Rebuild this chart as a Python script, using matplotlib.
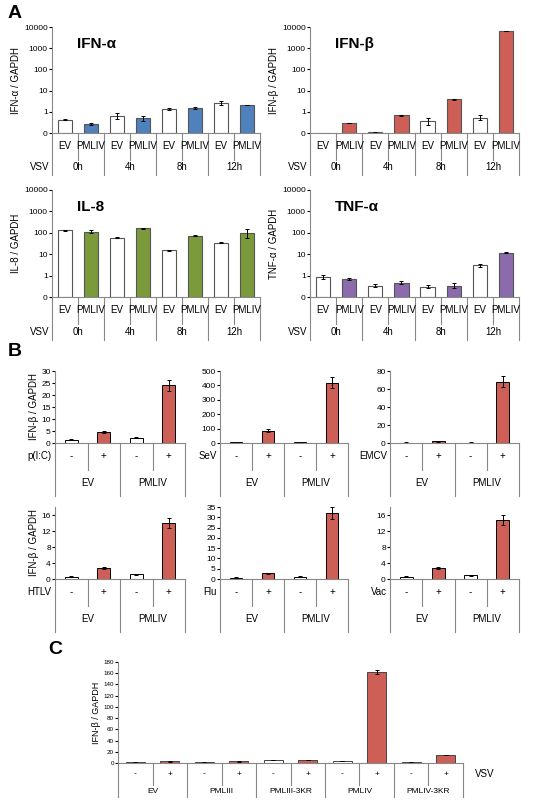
import numpy as np
import matplotlib
matplotlib.use("Agg")
import matplotlib.pyplot as plt

W, H = 553, 800
plt.rcParams['font.family'] = ['Liberation Sans', 'DejaVu Sans']
plt.rcParams['font.size'] = 6.5

RED = "#cd5f57"
BLUE = "#4f81bd"
GREEN = "#7a9a3c"
PURPLE = "#8b6bab"

# ---- Panel A data (EV, PMLIV alternating, 0h 4h 8h 12h)
times = ["0h", "4h", "8h", "12h"]
a_ifna = [0.62, 0.42, 0.8, 0.7, 1.33, 1.55, 2.7, 2.0]
a_ifna_err = [0.03, 0.03, 0.12, 0.12, 0.15, 0.15, 0.7, 0.0]
a_ifnb = [0.0, 0.47, 0.03, 0.83, 0.55, 3.9, 0.73, 6300]
a_ifnb_err = [0.0, 0.0, 0.02, 0.03, 0.15, 0.3, 0.12, 0.0]
a_il8 = [130, 115, 60, 160, 15, 74, 35, 100]
a_il8_err = [5, 15, 3, 8, 1.5, 4, 1, 45]
a_tnf = [0.94, 0.84, 0.53, 0.67, 0.48, 0.53, 3.0, 12]
a_tnf_err = [0.12, 0.05, 0.06, 0.06, 0.07, 0.12, 0.4, 0.5]

# ---- Panel B data (EV-, EV+, PMLIV-, PMLIV+)
b_names = ["p(I:C)", "SeV", "EMCV", "HTLV", "Flu", "Vac"]
b_vals = [[1.3, 4.5, 2.2, 24], [5, 85, 5, 420], [0.5, 2, 0.5, 68],
          [0.6, 2.7, 1.2, 14], [0.7, 2.7, 1.2, 32], [0.6, 2.7, 0.9, 14.7]]
b_err = [[0.2, 0.5, 0.3, 2.2], [1, 10, 1, 40], [0.2, 0.4, 0.2, 6],
         [0.1, 0.2, 0.1, 1.3], [0.1, 0.3, 0.1, 3], [0.1, 0.2, 0.1, 1.3]]
b_ylims = [30, 500, 80, 18, 35, 18]
b_ticks = [range(0, 31, 5), range(0, 501, 100), range(0, 81, 20),
           range(0, 17, 4), range(0, 36, 5), range(0, 17, 4)]

# ---- Panel C data
c_groups = ["EV", "PMLIII", "PMLIII-3KR", "PMLIV", "PMLIV-3KR"]
c_vals = [1, 3, 1, 3, 5, 5, 3, 162, 1, 14]
c_err = [0.2, 0.5, 0.2, 1, 0.3, 0.5, 0.3, 3, 0.2, 0.6]


def add_ax(l, t, r, b):
    return fig.add_axes([l / W, 1 - b / H, (r - l) / W, (b - t) / H])


def table_axis(ax, row1, row2, h1, h2, lab1=None, lab2=None, fs=7,
               right_label=None):
    # draws the category "table" below the axes, heights in axes fraction
    tr = ax.get_xaxis_transform()
    n = len(row1)
    kw = dict(transform=tr, clip_on=False, color="#888888", lw=0.8)
    for i, t in enumerate(row1):
        ax.text(i, -h1 / 2, t, transform=tr, ha="center", va="center",
                fontsize=fs)
    per = n // len(row2)
    for j, t in enumerate(row2):
        ax.text(j * per + (per - 1) / 2, -h1 - h2 / 2, t, transform=tr,
                ha="center", va="center", fontsize=fs)
    for k in range(n + 1):
        x = k - 0.5
        if k % per == 0:
            ax.plot([x, x], [0, -h1 - h2], **kw)
        else:
            ax.plot([x, x], [0, -h1], **kw)
    if lab1:
        ax.text(-0.6, -h1 / 2, lab1, transform=tr, ha="right", va="center",
                fontsize=7)
    if lab2:
        ax.text(-0.6, -h1 - h2 / 2, lab2, transform=tr, ha="right",
                va="center", fontsize=7)
    if right_label:
        ax.text(n - 0.5 + 0.35, -h1 / 2, right_label, transform=tr,
                ha="left", va="center", fontsize=7)


def style(ax):
    for s in ["top", "right"]:
        ax.spines[s].set_visible(False)
    for s in ["left", "bottom"]:
        ax.spines[s].set_color("#888888")
    ax.set_xticks([])
    ax.tick_params(axis="y", length=2, pad=1, labelsize=6)


fig = plt.figure(figsize=(W / 100, H / 100), dpi=100)

# Panel A
a_sets = [(a_ifna, a_ifna_err, BLUE, "IFN-α", "IFN-α / GAPDH", (52, 27, 260, 133)),
          (a_ifnb, a_ifnb_err, RED, "IFN-β", "IFN-β / GAPDH", (310, 27, 519, 133)),
          (a_il8, a_il8_err, GREEN, "IL-8", "IL-8 / GAPDH", (52, 190, 260, 297)),
          (a_tnf, a_tnf_err, PURPLE, "TNF-α", "TNF-α / GAPDH", (310, 190, 519, 297))]
for vals, err, col, title, ylab, rect in a_sets:
    ax = add_ax(*rect)
    x = np.arange(8)
    colors = ["white" if i % 2 == 0 else col for i in range(8)]
    ax.bar(x, vals, width=0.55, color=colors, edgecolor="#555555", lw=0.8)
    ax.errorbar(x, vals, yerr=err, fmt="none", ecolor="black", elinewidth=0.7,
                capsize=1.5, capthick=0.7)
    ax.set_yscale("symlog", linthresh=1, linscale=0.9)
    ax.set_ylim(0, 10000)
    ax.set_xlim(-0.5, 7.5)
    ax.set_yticks([0, 1, 10, 100, 1000, 10000])
    ax.set_yticklabels(["0", "1", "10", "100", "1000", "10000"])
    ax.yaxis.set_minor_locator(matplotlib.ticker.NullLocator())
    style(ax)
    ax.set_ylabel(ylab, fontsize=7, labelpad=2)
    ax.text(0.12, 0.84, title, transform=ax.transAxes, fontsize=11,
            fontweight="bold", va="center")
    table_axis(ax, ["EV", "PMLIV"] * 4, times, 0.25, 0.15, lab2="VSV")

fig.text(8 / W, 1 - 14 / H, "A", fontsize=14, fontweight="bold", va="center")
fig.text(8 / W, 1 - 352 / H, "B", fontsize=14, fontweight="bold", va="center")
fig.text(48 / W, 1 - 650 / H, "C", fontsize=14, fontweight="bold", va="center")

# Panel B
b_rects = [(55, 371, 185, 443), (220, 371, 348, 443), (390, 371, 519, 443),
           (55, 507, 185, 579), (220, 507, 348, 579), (390, 507, 519, 579)]
for k in range(6):
    ax = add_ax(*b_rects[k])
    x = np.arange(4)
    colors = ["white", RED, "white", RED]
    ax.bar(x, b_vals[k], width=0.4, color=colors, edgecolor="black", lw=0.7)
    ax.errorbar(x, b_vals[k], yerr=b_err[k], fmt="none", ecolor="black",
                elinewidth=0.7, capsize=1.5, capthick=0.7)
    ax.set_ylim(0, b_ylims[k])
    ax.set_xlim(-0.5, 3.5)
    ax.set_yticks(list(b_ticks[k]))
    style(ax)
    if k % 3 == 0:
        ax.set_ylabel("IFN-β / GAPDH", fontsize=7, labelpad=2)
    table_axis(ax, ["-", "+", "-", "+"], ["EV", "PMLIV"], 0.37, 0.36,
               lab1=b_names[k])

# Panel C
ax = add_ax(118, 662, 463, 763)
x = np.arange(10)
colors = ["white" if i % 2 == 0 else RED for i in range(10)]
ax.bar(x, c_vals, width=0.55, color=colors, edgecolor="#444444", lw=0.7)
ax.errorbar(x, c_vals, yerr=c_err, fmt="none", ecolor="black",
            elinewidth=0.7, capsize=1.5, capthick=0.7)
ax.set_ylim(0, 180)
ax.set_xlim(-0.5, 9.5)
ax.set_yticks(range(0, 181, 20))
style(ax)
ax.tick_params(axis="y", labelsize=4.5)
ax.set_ylabel("IFN-β / GAPDH", fontsize=6.5, labelpad=2)
table_axis(ax, ["-", "+"] * 5, c_groups, 0.22, 0.12, fs=6, right_label="VSV")

fig.savefig("out.png", dpi=100)
